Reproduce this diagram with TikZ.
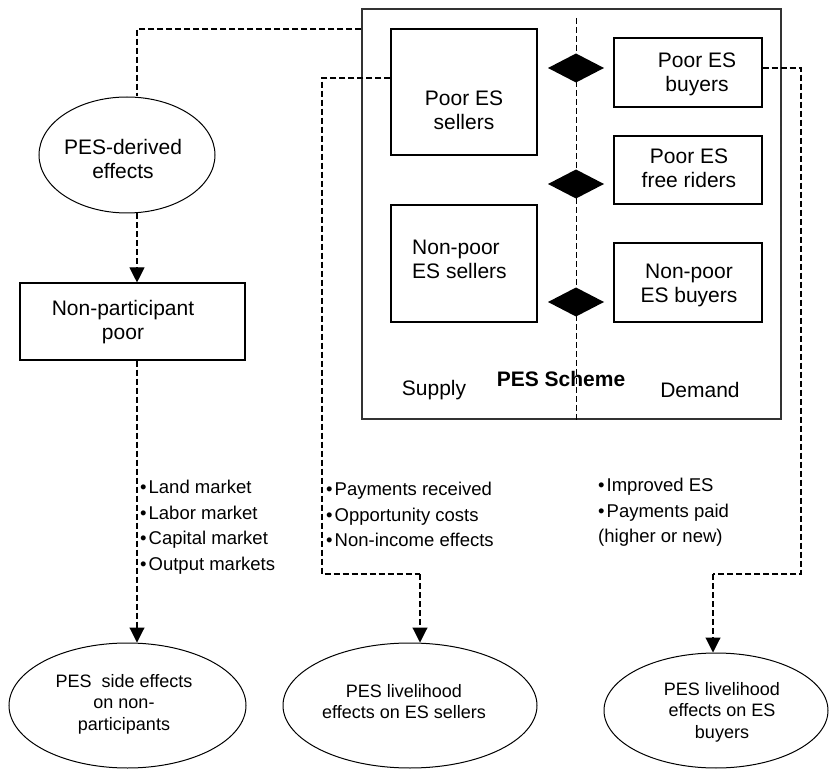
\documentclass[tikz,border=0pt]{standalone}
\usepackage{fontspec}
\setmainfont{Liberation Sans}
\usetikzlibrary{arrows.meta,shapes.geometric}
\newcommand\fbig{\fontsize{21}{24}\selectfont}
\newcommand\fbul{\fontsize{18.5}{25.5}\selectfont}
\newcommand\fell{\fontsize{18}{21.5}\selectfont}
\begin{document}
\begin{tikzpicture}[x=1pt,y=-1pt,
  box/.style={draw, line width=1.1pt, inner sep=0pt},
  outerbox/.style={draw=black!80, line width=1.3pt, inner sep=0pt},
  ell/.style={draw, ellipse, line width=1pt, inner sep=0pt},
  txt/.style={inner sep=0pt, align=center, font=\fbig},
  bul/.style={inner sep=0pt, align=left, font=\fbul, anchor=west},
  etxt/.style={inner sep=0pt, align=center, font=\fell},
  dline/.style={line width=1.1pt, dash pattern=on 6pt off 3pt},
  arr/.style={dline, -{Triangle[length=15pt,width=15pt]}},
  divider/.style={line width=0.9pt, dash pattern=on 6pt off 3pt},
  dia/.style={fill=black}
]
\useasboundingbox (0,0) rectangle (831,770);

% PES scheme frame
\node[outerbox, minimum width=419pt, minimum height=410pt] (scheme) at (571.5,214) {};
\coordinate (divtop) at (576,18);
\draw[divider] (divtop) -- (divtop |- scheme.south);

% supply boxes
\node[box, minimum width=146pt, minimum height=126pt] (pseller) at (464,92) {};
\node[txt] (tpseller) at (464,110) {Poor ES\\sellers};
\node[box, minimum width=146pt, minimum height=117pt] (npseller) at (464,263.5) {};
\node[txt, align=left, anchor=west] (tnpseller) at (412,259) {Non-poor\\ES sellers};

% demand boxes
\node[box, minimum width=148pt, minimum height=69pt] (pbuyer) at (688,72.5) {};
\node[txt] (tpbuyer) at (697,74) {Poor ES\\buyers};
\node[box, minimum width=148pt, minimum height=68pt] (pfree) at (688,170) {};
\node[txt] (tpfree) at (689,168) {Poor ES\\free riders};
\node[box, minimum width=148pt, minimum height=79pt] (npbuyer) at (688,282.5) {};
\node[txt] (tnpbuyer) at (689,285.5) {Non-poor\\ES buyers};

% diamonds
\foreach \yy/\nm in {68/d1,184/d2,302/d3}{
  \coordinate (\nm) at (576,\yy);
  \fill[dia] ([xshift=-28pt]\nm) -- ([yshift=-14.5pt]\nm) -- ([xshift=28pt]\nm) -- ([yshift=14.5pt]\nm) -- cycle;
}

% frame labels
\node[txt] (supply) at (434,390) {Supply};
\node[txt] (demand) at (700,390) {Demand};
\node[txt, font=\fbig\bfseries] (schemelbl) at (561,379) {PES Scheme};

% left column
\node[ell, minimum width=176pt, minimum height=116pt] (pesderived) at (127,155) {};
\node[txt] (tpesderived) at (123,158.5) {PES-derived\\effects};
\node[box, minimum width=225pt, minimum height=77pt] (nonpart) at (132.5,321.5) {};
\node[txt] (tnonpart) at (123,322.5) {Non-participant\\poor};

% bottom ellipses
\node[ell, minimum width=237pt, minimum height=125pt] (e1) at (127.5,705.5) {};
\node[etxt] (te1) at (124,704) {PES\ \ side effects\\on non-\\participants};
\node[ell, minimum width=254pt, minimum height=125pt] (e2) at (410,705.5) {};
\node[etxt] (te2) at (404,701.5) {PES livelihood\\effects on ES sellers};
\node[ell, minimum width=224pt, minimum height=115pt] (e3) at (716,710.5) {};
\node[etxt] (te3) at (722,712) {PES livelihood\\effects on ES\\buyers};

% bullet lists
\node[bul] (b1) at (140,527) {•\hspace{2pt}Land market\\•\hspace{2pt}Labor market\\•\hspace{2pt}Capital market\\•\hspace{2pt}Output markets};
\node[bul] (b2) at (326,514.5) {•\hspace{2pt}Payments received\\•\hspace{2pt}Opportunity costs\\•\hspace{2pt}Non-income effects};
\node[bul] (b3) at (598,512.5) {•\hspace{2pt}Improved ES\\•\hspace{2pt}Payments paid\\(higher or new)};

% connectors
\coordinate (c1) at (137,29);
\draw[dline] (scheme.west |- c1) -- (c1) -- (c1 |- pesderived.north);
\draw[arr] (c1 |- pesderived.south) -- (c1 |- nonpart.north);
\draw[arr] (c1 |- nonpart.south) -- (c1 |- e1.north);

\coordinate (c2) at (322,78);
\coordinate (c3) at (322,574);
\coordinate (c4) at (420,574);
\draw[dline] (pseller.west |- c2) -- (c2) -- (c3) -- (c4);
\draw[arr] (c4) -- (c4 |- e2.north);

\coordinate (c5) at (801,68);
\coordinate (c6) at (801,574);
\coordinate (c7) at (713,574);
\draw[dline] (pbuyer.east |- c5) -- (c5) -- (c6) -- (c7);
\draw[arr] (c7) -- (c7 |- e3.north);
\end{tikzpicture}
\end{document}
